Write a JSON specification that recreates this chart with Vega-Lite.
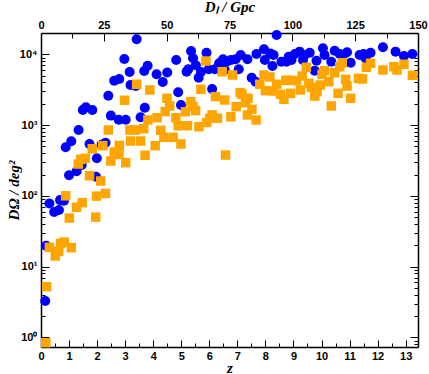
{
"$schema": "https://vega.github.io/schema/vega-lite/v6.json",
"width": 377, "height": 314, "autosize": "none",
"padding": {"left": 41, "top": 33, "right": 11, "bottom": 27},
"datasets": {
"pts": [
{"s":"b","z":3.41,"d":16300},{"s":"b","z":2.97,"d":8590},{"s":"b","z":3.16,"d":5620},{"s":"b","z":3.80,"d":6900},{"s":"b","z":3.68,"d":5810},{"s":"b","z":4.12,"d":5210},{"s":"b","z":4.50,"d":5530},{"s":"b","z":4.34,"d":4060},{"s":"b","z":2.79,"d":4480},{"s":"b","z":2.61,"d":4240},{"s":"b","z":3.19,"d":3680},{"s":"b","z":3.38,"d":3560},{"s":"b","z":2.40,"d":2600},{"s":"b","z":3.70,"d":1760},{"s":"b","z":1.49,"d":1630},{"s":"b","z":1.60,"d":1780},{"s":"b","z":1.83,"d":1630},{"s":"b","z":2.49,"d":1360},{"s":"b","z":2.77,"d":1190},{"s":"b","z":3.02,"d":1190},{"s":"b","z":3.55,"d":1290},{"s":"b","z":1.34,"d":851},{"s":"b","z":1.08,"d":589},{"s":"b","z":0.88,"d":485},{"s":"b","z":1.73,"d":540},{"s":"b","z":2.16,"d":528},{"s":"b","z":2.30,"d":563},{"s":"b","z":1.99,"d":339},{"s":"b","z":1.45,"d":272},{"s":"b","z":1.27,"d":222},{"s":"b","z":1.00,"d":195},{"s":"b","z":1.96,"d":186},{"s":"b","z":0.30,"d":78},{"s":"b","z":0.68,"d":87},{"s":"b","z":0.82,"d":85},{"s":"b","z":0.47,"d":59},{"s":"b","z":0.64,"d":63},{"s":"b","z":0.18,"d":19.7},{"s":"b","z":0.15,"d":3.26},
{"s":"b","z":8.40,"d":18700},{"s":"b","z":4.82,"d":8300},{"s":"b","z":5.35,"d":11100},{"s":"b","z":5.42,"d":8780},{"s":"b","z":5.52,"d":6990},{"s":"b","z":5.90,"d":10500},{"s":"b","z":5.19,"d":5680},{"s":"b","z":5.25,"d":6140},{"s":"b","z":5.70,"d":5620},{"s":"b","z":5.62,"d":4670},{"s":"b","z":5.98,"d":6140},{"s":"b","z":6.20,"d":6140},{"s":"b","z":6.35,"d":7460},{"s":"b","z":6.49,"d":8500},{"s":"b","z":6.61,"d":7860},{"s":"b","z":6.77,"d":8300},{"s":"b","z":6.94,"d":8500},{"s":"b","z":7.12,"d":9770},{"s":"b","z":7.36,"d":8500},{"s":"b","z":7.05,"d":6140},{"s":"b","z":6.55,"d":6000},{"s":"b","z":7.68,"d":10100},{"s":"b","z":7.95,"d":11800},{"s":"b","z":7.98,"d":8300},{"s":"b","z":8.17,"d":10300},{"s":"b","z":8.29,"d":9770},{"s":"b","z":8.25,"d":6830},{"s":"b","z":8.57,"d":7860},{"s":"b","z":8.75,"d":7860},{"s":"b","z":8.83,"d":9250},{"s":"b","z":7.51,"d":4670},{"s":"b","z":7.65,"d":4100},{"s":"b","z":6.10,"d":3230},{"s":"b","z":4.89,"d":2900},{"s":"b","z":4.99,"d":1920},
{"s":"b","z":12.19,"d":12600},{"s":"b","z":12.64,"d":10900},{"s":"b","z":12.94,"d":9460},{"s":"b","z":13.24,"d":10100},{"s":"b","z":9.05,"d":10100},{"s":"b","z":9.22,"d":10900},{"s":"b","z":9.40,"d":9770},{"s":"b","z":9.58,"d":10500},{"s":"b","z":8.93,"d":8300},{"s":"b","z":9.34,"d":8300},{"s":"b","z":9.82,"d":8120},{"s":"b","z":10.05,"d":12200},{"s":"b","z":10.11,"d":9770},{"s":"b","z":10.35,"d":7860},{"s":"b","z":10.47,"d":11200},{"s":"b","z":10.65,"d":10100},{"s":"b","z":10.77,"d":9770},{"s":"b","z":10.91,"d":10700},{"s":"b","z":11.04,"d":7600},{"s":"b","z":9.76,"d":5870},{"s":"b","z":11.36,"d":9770},{"s":"b","z":11.50,"d":10100},{"s":"b","z":11.75,"d":10500},{"s":"b","z":11.57,"d":8780},
{"s":"o","z":3.41,"d":3770},{"s":"o","z":3.88,"d":3130},{"s":"o","z":2.98,"d":2240},{"s":"o","z":4.49,"d":2390},{"s":"o","z":4.43,"d":1550},{"s":"o","z":4.14,"d":1270},{"s":"o","z":3.81,"d":1180},{"s":"o","z":2.40,"d":851},{"s":"o","z":3.17,"d":851},{"s":"o","z":3.37,"d":851},{"s":"o","z":3.66,"d":888},{"s":"o","z":4.27,"d":843},{"s":"o","z":4.38,"d":671},{"s":"o","z":3.19,"d":595},{"s":"o","z":3.55,"d":595},{"s":"o","z":4.07,"d":511},{"s":"o","z":1.83,"d":463},{"s":"o","z":2.20,"d":511},{"s":"o","z":2.79,"d":517},{"s":"o","z":2.61,"d":416},{"s":"o","z":2.78,"d":384},{"s":"o","z":3.71,"d":374},{"s":"o","z":1.58,"d":339},{"s":"o","z":1.42,"d":328},{"s":"o","z":2.49,"d":310},{"s":"o","z":3.02,"d":294},
{"s":"o","z":1.33,"d":281},{"s":"o","z":1.73,"d":192},{"s":"o","z":2.13,"d":162},{"s":"o","z":0.88,"d":100},{"s":"o","z":1.98,"d":99},{"s":"o","z":2.30,"d":108},{"s":"o","z":1.47,"d":80},{"s":"o","z":1.27,"d":69},{"s":"o","z":1.01,"d":48.5},{"s":"o","z":1.95,"d":50},{"s":"o","z":0.30,"d":18.7},{"s":"o","z":0.51,"d":14.1},{"s":"o","z":0.63,"d":16.4},{"s":"o","z":0.70,"d":21.3},{"s":"o","z":0.83,"d":22.2},{"s":"o","z":1.08,"d":18.5},{"s":"o","z":0.20,"d":5.19},{"s":"o","z":0.17,"d":0.84},
{"s":"o","z":5.88,"d":8040},{"s":"o","z":6.46,"d":5680},{"s":"o","z":6.83,"d":5100},{"s":"o","z":7.95,"d":5100},{"s":"o","z":8.16,"d":4780},{"s":"o","z":8.40,"d":3770},{"s":"o","z":8.73,"d":4290},{"s":"o","z":8.87,"d":4290},{"s":"o","z":7.80,"d":3770},{"s":"o","z":8.00,"d":3060},{"s":"o","z":8.27,"d":3030},{"s":"o","z":8.54,"d":2720},{"s":"o","z":8.66,"d":2310},{"s":"o","z":8.90,"d":2810},{"s":"o","z":5.70,"d":3200},{"s":"o","z":6.22,"d":2520},{"s":"o","z":6.55,"d":2260},{"s":"o","z":7.10,"d":2870},{"s":"o","z":7.17,"d":2720},{"s":"o","z":7.38,"d":2390},{"s":"o","z":7.29,"d":2070},{"s":"o","z":6.96,"d":1820},{"s":"o","z":7.52,"d":1670},{"s":"o","z":7.36,"d":1390},{"s":"o","z":7.67,"d":1180},{"s":"o","z":5.34,"d":2140},{"s":"o","z":5.42,"d":1820},{"s":"o","z":5.51,"d":1600},{"s":"o","z":5.15,"d":1540},{"s":"o","z":6.10,"d":1390},{"s":"o","z":6.02,"d":1250},{"s":"o","z":6.29,"d":1250},{"s":"o","z":5.91,"d":1090},{"s":"o","z":6.77,"d":1310},{"s":"o","z":4.81,"d":1270},{"s":"o","z":4.89,"d":979},{"s":"o","z":5.22,"d":979},{"s":"o","z":5.63,"d":948},{"s":"o","z":4.71,"d":671},{"s":"o","z":4.99,"d":540},{"s":"o","z":6.58,"d":377},{"s":"o","z":4.59,"d":1860},
{"s":"o","z":9.46,"d":6550},{"s":"o","z":10.74,"d":7600},{"s":"o","z":10.65,"d":6680},{"s":"o","z":10.47,"d":5490},{"s":"o","z":10.11,"d":5870},{"s":"o","z":10.02,"d":5210},{"s":"o","z":11.75,"d":7460},{"s":"o","z":11.60,"d":6550},{"s":"o","z":12.19,"d":6000},{"s":"o","z":12.58,"d":6680},{"s":"o","z":12.69,"d":6000},{"s":"o","z":12.94,"d":7220},{"s":"o","z":13.24,"d":5050},{"s":"o","z":9.11,"d":4240},{"s":"o","z":9.31,"d":4930},{"s":"o","z":9.55,"d":3890},{"s":"o","z":9.64,"d":3420},{"s":"o","z":9.96,"d":3680},{"s":"o","z":10.26,"d":4100},{"s":"o","z":10.86,"d":4430},{"s":"o","z":10.91,"d":3560},{"s":"o","z":11.32,"d":4580},{"s":"o","z":11.46,"d":4480},{"s":"o","z":9.25,"d":3130},{"s":"o","z":9.84,"d":2960},{"s":"o","z":9.76,"d":2570},{"s":"o","z":10.59,"d":2810},{"s":"o","z":11.04,"d":2390},{"s":"o","z":10.35,"d":1860}
]
},
"data": {"name": "pts"},
"config": {
  "view": {"stroke": null},
  "axis": {
    "grid": false, "domainColor": "#000", "domainWidth": 1.5, "tickColor": "#000", "tickWidth": 1,
    "labelFont": "Liberation Sans", "labelFontWeight": "bold", "labelFontSize": 11, "labelColor": "#000",
    "titleFont": "Liberation Serif", "titleFontStyle": "italic", "titleFontWeight": "bold", "titleFontSize": 15, "titleColor": "#000",
    "labelOverlap": false, "labelFlush": false
  }
},
"layer": [
  {
    "transform": [{"filter": "datum.s == 'b'"}],
    "mark": {"type": "point", "shape": "circle", "filled": true, "color": "#0000ff", "opacity": 1, "size": 100},
    "encoding": {
      "x": {"field": "z", "type": "quantitative",
        "scale": {"domain": [0, 13.44], "nice": false, "zero": false},
        "axis": {"orient": "bottom", "title": "z", "titlePadding": -4,
          "values": [0,0.5,1,1.5,2,2.5,3,3.5,4,4.5,5,5.5,6,6.5,7,7.5,8,8.5,9,9.5,10,10.5,11,11.5,12,12.5,13],
          "labelExpr": "datum.value % 1 == 0 ? format(datum.value, 'd') : ''",
          "tickSize": {"condition": {"test": "datum.value % 1 == 0", "value": -7}, "value": -4},
          "labelPadding": 10}},
      "y": {"field": "d", "type": "quantitative",
        "scale": {"type": "log", "domain": [0.73, 20000], "nice": false},
        "axis": {"orient": "left", "title": "DΩ / deg²", "titlePadding": -2,
          "values": [0.8,0.9,1,2,3,4,5,6,7,8,9,10,20,30,40,50,60,70,80,90,100,200,300,400,500,600,700,800,900,1000,2000,3000,4000,5000,6000,7000,8000,9000,10000,20000],
          "labelExpr": "abs(log(datum.value)/LN10 - round(log(datum.value)/LN10)) < 0.01 ? '10' + ['⁰','¹','²','³','⁴'][round(log(datum.value)/LN10)] : ''",
          "tickSize": {"condition": {"test": "abs(log(datum.value)/LN10 - round(log(datum.value)/LN10)) < 0.01", "value": -8}, "value": -4},
          "labelPadding": 12}}
    }
  },
  {
    "transform": [{"filter": "datum.s == 'o'"}],
    "mark": {"type": "square", "filled": true, "color": "#ffa500", "opacity": 1, "size": 90},
    "encoding": {
      "x": {"field": "z", "type": "quantitative",
        "scale": {"domain": [0, 13.44], "nice": false, "zero": false},
        "axis": {"orient": "top", "title": "Dₗ / Gpc", "titlePadding": 2,
          "values": [0,1.12,2.24,3.36,4.48,5.6,6.72,7.84,8.96,10.08,11.2,12.32,13.44],
          "labelExpr": "round(datum.value/0.0896) % 25 == 0 ? format(round(datum.value/0.0896), 'd') : ''",
          "tickSize": {"condition": {"test": "round(datum.value/0.0896) % 25 == 0", "value": -8}, "value": -5},
          "labelPadding": 11}},
      "y": {"field": "d", "type": "quantitative",
        "scale": {"type": "log", "domain": [0.73, 20000], "nice": false},
        "axis": {"orient": "right", "title": null, "labels": false,
          "values": [0.8,0.9,1,2,3,4,5,6,7,8,9,10,20,30,40,50,60,70,80,90,100,200,300,400,500,600,700,800,900,1000,2000,3000,4000,5000,6000,7000,8000,9000,10000,20000],
          "tickSize": {"condition": {"test": "abs(log(datum.value)/LN10 - round(log(datum.value)/LN10)) < 0.01", "value": -8}, "value": -4}}}
    }
  }
],
"resolve": {"axis": {"x": "independent", "y": "independent"}}
}
